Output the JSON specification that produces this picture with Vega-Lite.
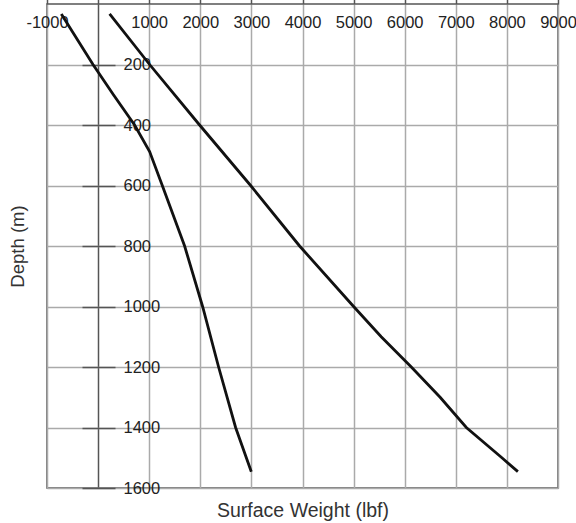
{
  "$schema": "https://vega.github.io/schema/vega-lite/v6.json",
  "width": 511,
  "height": 484,
  "autosize": {"type": "none"},
  "padding": {"left": 47, "top": 4, "right": 18, "bottom": 35},
  "background": "white",
  "config": {
    "view": {"stroke": "#555555", "strokeWidth": 1.5},
    "font": "Liberation Sans"
  },
  "data": {
    "values": [
      {"series": "A", "depth": 33, "weight": -720},
      {"series": "A", "depth": 200, "weight": -100},
      {"series": "A", "depth": 300, "weight": 300},
      {"series": "A", "depth": 400, "weight": 714},
      {"series": "A", "depth": 488, "weight": 1008},
      {"series": "A", "depth": 600, "weight": 1256},
      {"series": "A", "depth": 800, "weight": 1693},
      {"series": "A", "depth": 1000, "weight": 2045},
      {"series": "A", "depth": 1200, "weight": 2358},
      {"series": "A", "depth": 1400, "weight": 2691},
      {"series": "A", "depth": 1546, "weight": 2998},
      {"series": "B", "depth": 33, "weight": 225},
      {"series": "B", "depth": 200, "weight": 1008},
      {"series": "B", "depth": 400, "weight": 1986},
      {"series": "B", "depth": 600, "weight": 2985},
      {"series": "B", "depth": 800, "weight": 3943},
      {"series": "B", "depth": 1000, "weight": 5000},
      {"series": "B", "depth": 1100, "weight": 5540},
      {"series": "B", "depth": 1200, "weight": 6129},
      {"series": "B", "depth": 1300, "weight": 6693},
      {"series": "B", "depth": 1400, "weight": 7206},
      {"series": "B", "depth": 1500, "weight": 7902},
      {"series": "B", "depth": 1546, "weight": 8215}
    ]
  },
  "mark": {"type": "line", "color": "#111111", "strokeWidth": 2.8},
  "encoding": {
    "x": {
      "field": "weight",
      "type": "quantitative",
      "scale": {"domain": [-1000, 9000], "nice": false, "zero": false},
      "axis": {
        "orient": "top",
        "values": [-1000, 0, 1000, 2000, 3000, 4000, 5000, 6000, 7000, 8000, 9000],
        "labelExpr": "datum.value == 0 ? '' : toString(datum.value)",
        "labelFlush": false,
        "labelOverlap": false,
        "labelFontSize": 16.5,
        "labelColor": "#222222",
        "labelPadding": -31,
        "tickSize": 5,
        "tickColor": "#555555",
        "tickWidth": 1.5,
        "domain": false,
        "grid": true,
        "gridColor": {"condition": {"test": "datum.value === 0", "value": "#555555"}, "value": "#aaaaaa"},
        "gridWidth": 1.5,
        "gridOpacity": 1,
        "title": "Surface Weight (lbf)",
        "titleFontSize": 19.5,
        "titleFontWeight": "normal",
        "titleColor": "#333333",
        "titleX": 255.5,
        "titleY": 506,
        "titleAlign": "center",
        "titleAngle": 0,
        "titleBaseline": "middle"
      }
    },
    "y": {
      "field": "depth",
      "type": "quantitative",
      "scale": {"domain": [0, 1600], "reverse": true, "nice": false},
      "axis": {
        "orient": "left",
        "offset": -68,
        "values": [200, 400, 600, 800, 1000, 1200, 1400, 1600],
        "labelExpr": "toString(datum.value)",
        "domain": false,
        "tickSize": 33,
        "tickColor": "#555555",
        "tickWidth": 1.5,
        "labelAlign": "left",
        "labelBaseline": "middle",
        "labelPadding": -41,
        "labelFontSize": 16.5,
        "labelColor": "#222222",
        "labelOverlap": false,
        "labelFlush": false,
        "grid": true,
        "gridColor": "#aaaaaa",
        "gridWidth": 1.5,
        "gridOpacity": 1,
        "title": "Depth (m)",
        "titleFontSize": 18.5,
        "titleFontWeight": "normal",
        "titleColor": "#333333",
        "titleX": -98,
        "titleY": 242,
        "titleAngle": -90,
        "titleAlign": "center",
        "titleBaseline": "middle"
      }
    },
    "detail": {"field": "series"},
    "order": {"field": "depth"}
  }
}
